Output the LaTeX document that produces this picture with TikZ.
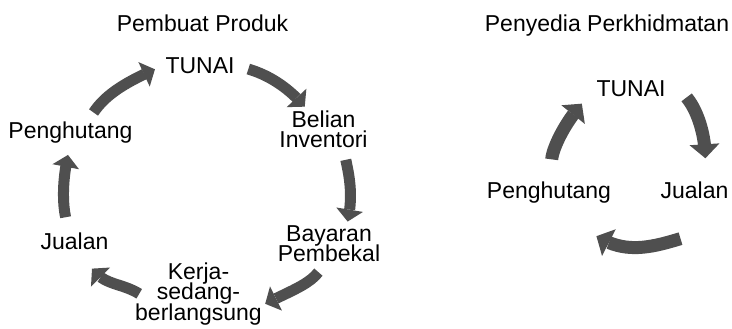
\documentclass[tikz,border=0pt]{standalone}
\usepackage{fontspec}
\setmainfont{Liberation Sans}
\usetikzlibrary{arrows.meta,bending,positioning}
\definecolor{arrgray}{RGB}{79,79,79}
\newcommand\lblfont[1]{\fontsize{11.5pt}{#1}\selectfont\lineskiplimit=-20pt}
\tikzset{
  lbl/.style={inner sep=0.5pt,align=center,font=\lblfont{13pt}},
  cyc/.style={draw=arrgray,line width=5.5pt,-{Triangle[width=13.5pt,length=6pt,line width=0pt]}},
  cycb/.style={draw=arrgray,line width=6.5pt,-{Triangle[width=15pt,length=7pt,line width=0pt]}},
}
\begin{document}
\begin{tikzpicture}[x=0.5pt,y=0.5pt]
  \useasboundingbox (0,0) rectangle (732,-328);
  % Pembuat Produk
  \node[lbl,anchor=base] (pp) at (202.5,-31) {Pembuat Produk};
  \node[lbl,anchor=base] (t1) at (200,-73) {TUNAI};
  \node[lbl,font=\lblfont{10.2pt}] (bel) at (323.5,-129) {Belian\\Inventori};
  \node[lbl,font=\lblfont{10pt}] (bay) at (329,-243.9) {Bayaran\\Pembekal};
  \node[lbl,font=\lblfont{10.25pt}] (kerja) at (198.5,-293.8) {Kerja-\\sedang-\\berlangsung};
  \node[lbl,anchor=base] (j1) at (74.5,-249) {Jualan};
  \node[lbl,anchor=base] (h1) at (70.5,-138) {Penghutang};
  \draw[cyc,shorten <=6.5pt,shorten >=1.5pt] (t1.east) to[out=-17,in=130] (bel);
  \draw[cyc,shorten <=5.5pt,shorten >=1.5pt] ([xshift=10pt]bel.south) to[out=-78,in=77] ([xshift=9pt]bay.north);
  \draw[cyc,shorten <=5.5pt] ([xshift=-2pt]bay.south) to[out=-127,in=27] ([shift={(1pt,-5pt)}]kerja.east);
  \draw[cyc] ([xshift=2.7pt]kerja.west) to[out=148,in=-54] ([shift={(8.75pt,-9pt)}]j1.south);
  \draw[cyc,shorten <=7pt,shorten >=5.5pt] ([xshift=-3pt]j1.north) to[out=102,in=-104] (h1.south);
  \draw[cyc,shorten <=4.5pt,shorten >=5pt] ([xshift=9pt]h1.north) to[out=56,in=204] (t1.west);
  % Penyedia Perkhidmatan
  \node[lbl,anchor=base] (pk) at (607,-31) {Penyedia Perkhidmatan};
  \node[lbl,anchor=base] (t2) at (631,-96) {TUNAI};
  \node[lbl,anchor=base] (j2) at (694.5,-198) {Jualan};
  \node[lbl,anchor=base] (h2) at (549,-198) {Penghutang};
  \draw[cycb,shorten <=6pt,shorten >=11pt] ([xshift=6pt]t2.east) to[out=-50,in=85] ([xshift=5pt]j2.north);
  \draw[cycb] ([shift={(-7pt,-19.5pt)}]j2.south) to[out=197,in=-32] ([shift={(-8pt,-16pt)}]h2.south east);
  \draw[cycb,shorten <=10.3pt,shorten >=4pt] ([xshift=1pt]h2.north) to[out=88,in=228] ([xshift=-4pt]t2.south west);
\end{tikzpicture}
\end{document}
